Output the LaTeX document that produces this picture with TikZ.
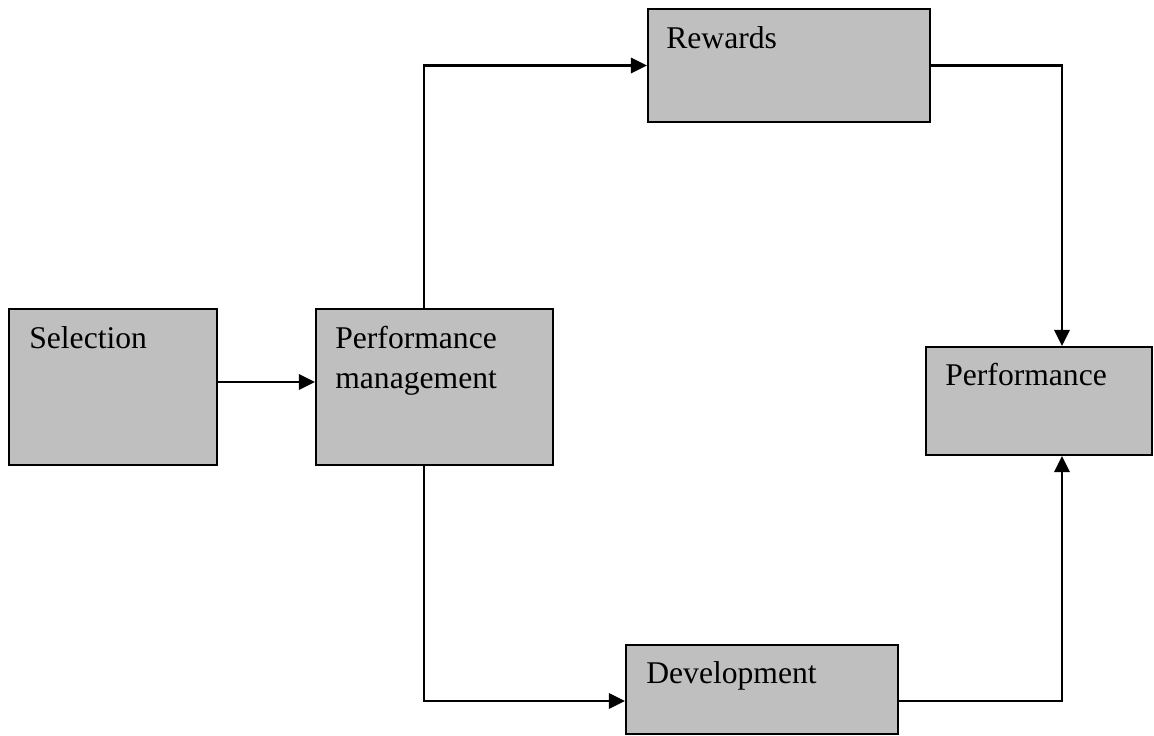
\documentclass[tikz,border=0pt]{standalone}
\usepackage{fontspec}
\setmainfont{Liberation Serif}
\usetikzlibrary{arrows.meta}
\definecolor{boxgray}{RGB}{191,191,191}

\begin{document}
\begin{tikzpicture}[x=0.02cm,y=-0.02cm,
	box/.style={draw=black,fill=boxgray,line width=1.2pt,inner sep=0pt},
	txt/.style={anchor=base west,inner sep=0pt,align=left,font=\fontsize{18}{22.8}\selectfont},
	link/.style={line width=1.6pt,-{Triangle[length=0.32cm,width=0.3cm]}}]
	\useasboundingbox (0,0) rectangle (1154,735);

	%boxes
	\node[box,minimum width=4.16cm,minimum height=3.12cm] (sel) at (113,387) {};
	\node[box,minimum width=4.74cm,minimum height=3.12cm] (pm) at (434.5,387) {};
	\node[box,minimum width=5.64cm,minimum height=2.26cm] (rew) at (789,65.5) {};
	\node[box,minimum width=4.52cm,minimum height=2.16cm] (perf) at (1039,401) {};
	\node[box,minimum width=5.44cm,minimum height=1.78cm] (dev) at (762,689.5) {};

	%labels
	\node[txt] (sel-t) at ([shift={(0.42cm,-0.82cm)}]sel.north west) {Selection};
	\node[txt] (pm-t) at ([shift={(0.40cm,-1.62cm)}]pm.north west) {Performance\\management}; %base is last line
	\node[txt] (rew-t) at ([shift={(0.38cm,-0.82cm)}]rew.north west) {Rewards};
	\node[txt] (perf-t) at ([shift={(0.40cm,-0.80cm)}]perf.north west) {Performance};
	\node[txt] (dev-t) at ([shift={(0.42cm,-0.80cm)}]dev.north west) {Development};

	%arrows
	\draw[link] ([yshift=0.1cm]sel.east) -- ([yshift=0.1cm]pm.west); %selection to pm
	\draw[link] ([xshift=-0.21cm]pm.north) |- (rew.west); %pm to rewards
	\draw[link] (rew.east) -| ([xshift=0.46cm]perf.north); %rewards to performance
	\draw[link] ([xshift=-0.21cm]pm.south) |- ([yshift=-0.23cm]dev.west); %pm to development
	\draw[link] ([yshift=-0.23cm]dev.east) -| ([xshift=0.46cm]perf.south); %development to performance
\end{tikzpicture}
\end{document}
